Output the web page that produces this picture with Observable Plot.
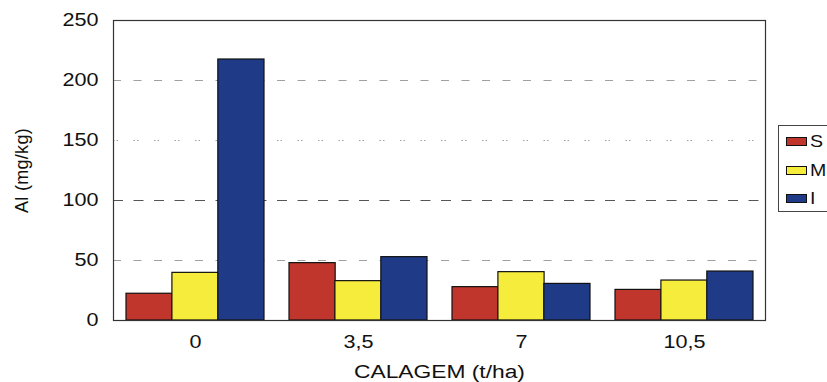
<!DOCTYPE html>
<html>
<head>
<meta charset="utf-8">
<script src="https://cdn.jsdelivr.net/npm/d3@7"></script>
<script src="https://cdn.jsdelivr.net/npm/@observablehq/plot@0.6"></script>
<style>
  html, body { margin: 0; padding: 0; background: #fff; }
  #wrap { position: relative; width: 827px; height: 382px; overflow: hidden; font-family: "Liberation Sans", Arial, sans-serif; }
  #wrap svg text { fill: #111; }
  #wrap svg g[aria-label="x-axis tick label"] text,
  #wrap svg g[aria-label="y-axis tick label"] text { font-size: 18px; }
  #wrap svg g[aria-label="x-axis label"] text { font-size: 19px; }
  #wrap svg g[aria-label="y-axis label"] text { font-size: 18px; letter-spacing: 0.3px; }
  #legend { position: absolute; left: 778px; top: 125px; width: 80px; height: 87px; border: 1px solid #444; box-sizing: border-box; background: #fff; }
  .item { position: absolute; left: 7px; display: flex; align-items: center; font-size: 17px; color: #111; line-height: 17px; }
  .item span { display: inline-block; transform: scaleX(1.15); transform-origin: left center; }
  .sw { width: 19px; height: 7px; border: 1px solid #111; margin-right: 3px; }
</style>
</head>
<body>
<div id="wrap"></div>
<script>
const categories = ["0", "3,5", "7", "10,5"];
const seriesNames = ["S", "M", "I"];
const valuesS = [22.3, 47.8, 27.8, 25.5];
const valuesM = [39.7, 32.8, 40.3, 33.3];
const valuesI = [217.5, 52.8, 30.5, 40.8];
const colors = ["#c0362c", "#f6ec3c", "#1f3a86"];
const yTicks = [0, 50, 100, 150, 200, 250];

const seriesValues = [valuesS, valuesM, valuesI];
const data = [];
seriesNames.forEach((s, si) => categories.forEach((c, ci) => data.push({cat: c, series: s, value: seriesValues[si][ci]})));

const W = 827, H = 382, mL = 113, mR = 62, mT = 20, mB = 62;
const pIn = 0.155, pOut = 0.0775;
const step = (W - mL - mR) / (categories.length - pIn + 2 * pOut);
const third = step * (1 - pIn) / 3;

const barMarks = seriesNames.map((s, si) => Plot.barY(data.filter(d => d.series === s), {
  x: "cat", y: "value", fill: colors[si], stroke: "#111", strokeWidth: 1.2,
  insetLeft: si * third, insetRight: (2 - si) * third
}));

const chart = Plot.plot({
  width: W, height: H,
  marginLeft: mL, marginRight: mR, marginTop: mT, marginBottom: mB,
  style: {fontFamily: "'Liberation Sans', Arial, sans-serif", fontSize: "18px", color: "#111", background: "#fff"},
  x: {domain: categories, paddingInner: pIn, paddingOuter: pOut, label: null},
  y: {domain: [0, 250], label: null},
  marks: [
    Plot.gridY([50, 200], {stroke: "#888", strokeOpacity: 0.8, strokeDasharray: "8,12.5"}),
    Plot.gridY([150], {stroke: "#888", strokeOpacity: 0.8, strokeDasharray: "1.5,2,1.5,15.5"}),
    Plot.gridY([100], {stroke: "#444", strokeOpacity: 0.9, strokeDasharray: "10,10.5"}),
    ...barMarks,
    Plot.frame({stroke: "#333", strokeWidth: 1.2}),
    Plot.axisY(yTicks, {tickSize: 0, tickPadding: 15, label: "Al (mg/kg)", labelArrow: "none", labelAnchor: "center", labelOffset: 98}),
    Plot.axisX({tickSize: 0, tickPadding: 15, label: "CALAGEM (t/ha)", labelArrow: "none", labelAnchor: "center", labelOffset: 57})
  ]
});
const wrap = document.getElementById("wrap");
wrap.appendChild(chart);

// horizontal stretch of the horizontal texts, as in the scanned original
["x-axis tick label", "y-axis tick label", "x-axis label"].forEach(name => {
  chart.querySelectorAll(`g[aria-label="${name}"] text`).forEach(t => {
    const tr = t.getAttribute("transform") || "";
    t.setAttribute("transform", tr + " scale(1.2,1)");
  });
});

const legend = document.createElement("div");
legend.id = "legend";
const tops = [7, 36, 64];
seriesNames.forEach((s, i) => {
  const it = document.createElement("div");
  it.className = "item";
  it.style.top = tops[i] + "px";
  const sw = document.createElement("div");
  sw.className = "sw";
  sw.style.background = colors[i];
  const t = document.createElement("span");
  t.textContent = s;
  it.appendChild(sw); it.appendChild(t);
  legend.appendChild(it);
});
wrap.appendChild(legend);
</script>
</body>
</html>
